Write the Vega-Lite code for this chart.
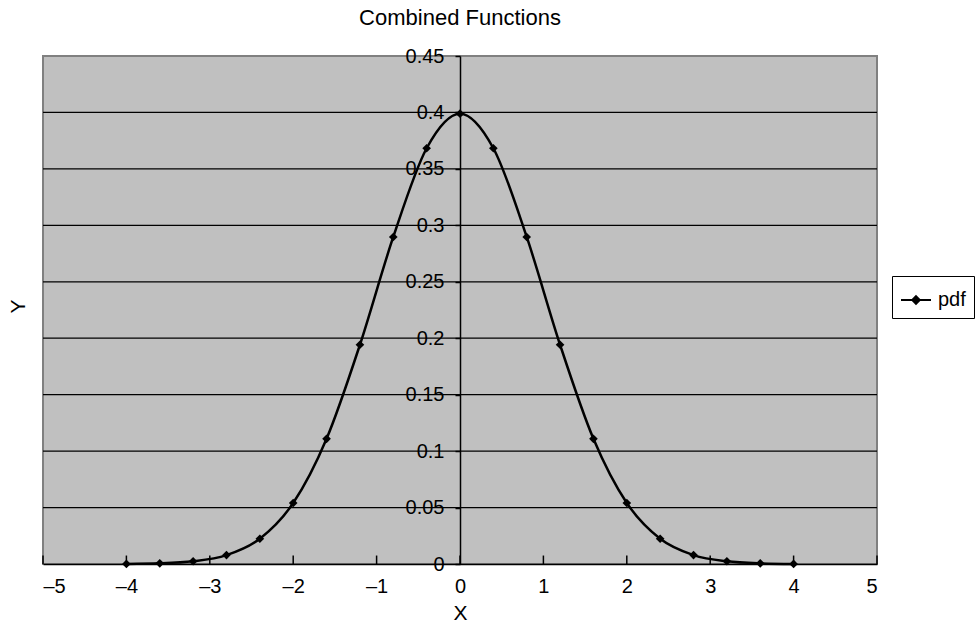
{
  "$schema": "https://vega.github.io/schema/vega-lite/v6.json",
  "autosize": "none",
  "width": 834,
  "height": 508,
  "padding": {"left": 43, "top": 56, "right": 99, "bottom": 59},
  "background": "white",
  "title": {"text": "Combined Functions", "fontSize": 22, "fontWeight": "normal", "font": "Liberation Sans", "color": "black", "offset": 16},
  "config": {
    "font": "Liberation Sans",
    "view": {"fill": "#c0c0c0", "stroke": "#808080", "strokeWidth": 2}
  },
  "data": {"values": [
    {"x": -4.0, "y": 0.0001, "series": "pdf"},
    {"x": -3.6, "y": 0.0006, "series": "pdf"},
    {"x": -3.2, "y": 0.0024, "series": "pdf"},
    {"x": -2.8, "y": 0.0079, "series": "pdf"},
    {"x": -2.4, "y": 0.0224, "series": "pdf"},
    {"x": -2.0, "y": 0.054, "series": "pdf"},
    {"x": -1.6, "y": 0.1109, "series": "pdf"},
    {"x": -1.2, "y": 0.1942, "series": "pdf"},
    {"x": -0.8, "y": 0.2897, "series": "pdf"},
    {"x": -0.4, "y": 0.3683, "series": "pdf"},
    {"x": 0.0, "y": 0.3989, "series": "pdf"},
    {"x": 0.4, "y": 0.3683, "series": "pdf"},
    {"x": 0.8, "y": 0.2897, "series": "pdf"},
    {"x": 1.2, "y": 0.1942, "series": "pdf"},
    {"x": 1.6, "y": 0.1109, "series": "pdf"},
    {"x": 2.0, "y": 0.054, "series": "pdf"},
    {"x": 2.4, "y": 0.0224, "series": "pdf"},
    {"x": 2.8, "y": 0.0079, "series": "pdf"},
    {"x": 3.2, "y": 0.0024, "series": "pdf"},
    {"x": 3.6, "y": 0.0006, "series": "pdf"},
    {"x": 4.0, "y": 0.0001, "series": "pdf"}
  ]},
  "encoding": {
    "x": {
      "field": "x", "type": "quantitative",
      "scale": {"domain": [-5, 5], "nice": false, "zero": false},
      "axis": {
        "title": "X", "titleFontSize": 21, "titleFontWeight": "normal", "titleColor": "black", "titlePadding": 6,
        "values": [-5, -4, -3, -2, -1, 0, 1, 2, 3, 4, 5],
        "labelExpr": "datum.value < 0 ? '\u2013' + format(-datum.value, 'd') : format(datum.value, 'd')",
        "labelFontSize": 20, "labelColor": "black", "labelPadding": 12,
        "grid": false, "domainColor": "black", "domainWidth": 1.5,
        "ticks": false, "tickSize": 0
      }
    },
    "y": {
      "field": "y", "type": "quantitative",
      "scale": {"domain": [0, 0.45], "nice": false},
      "axis": {
        "title": "Y", "titleFontSize": 21, "titleFontWeight": "normal", "titleColor": "black",
        "titleX": -436, "titleY": 250, "titleBaseline": "alphabetic",
        "offset": -417,
        "values": [0, 0.05, 0.1, 0.15, 0.2, 0.25, 0.3, 0.35, 0.4, 0.45],
        "labelExpr": "datum.value == 0 ? '0' : format(datum.value, '.2~f')",
        "labelFontSize": 20, "labelColor": "black", "labelPadding": 11,
        "grid": false, "domainColor": "black", "domainWidth": 1.5,
        "tickColor": "black", "tickSize": 5, "tickWidth": 1.5
      }
    }
  },
  "layer": [
    {
      "mark": {"type": "rule", "color": "black", "strokeWidth": 1.2},
      "data": {"values": [{"g": 0.05}, {"g": 0.1}, {"g": 0.15}, {"g": 0.2}, {"g": 0.25}, {"g": 0.3}, {"g": 0.35}, {"g": 0.4}]},
      "encoding": {"y": {"field": "g", "type": "quantitative"}, "x": null}
    },
    {
      "mark": {"type": "rule", "color": "black", "strokeWidth": 1.5},
      "data": {"values": [
        {"t": -5, "b": 0, "h": 0.0075}, {"t": -4, "b": 0, "h": 0.0075}, {"t": -3, "b": 0, "h": 0.0075},
        {"t": -2, "b": 0, "h": 0.0075}, {"t": -1, "b": 0, "h": 0.0075}, {"t": 0, "b": 0, "h": 0.0075},
        {"t": 1, "b": 0, "h": 0.0075}, {"t": 2, "b": 0, "h": 0.0075}, {"t": 3, "b": 0, "h": 0.0075},
        {"t": 4, "b": 0, "h": 0.0075}, {"t": 5, "b": 0, "h": 0.0075}
      ]},
      "encoding": {
        "x": {"field": "t", "type": "quantitative"},
        "y": {"field": "b", "type": "quantitative"},
        "y2": {"field": "h"}
      }
    },
    {
      "mark": {"type": "line", "interpolate": "monotone", "strokeWidth": 2.5},
      "encoding": {
        "color": {
          "field": "series", "type": "nominal",
          "scale": {"domain": ["pdf"], "range": ["black"]},
          "legend": {
            "title": null, "orient": "none", "legendX": 849, "legendY": 220,
            "fillColor": "white", "strokeColor": "black", "padding": 8,
            "labelFontSize": 20, "labelColor": "black",
            "symbolType": "M-1,0L1,0M0,-0.25L0.25,0L0,0.25L-0.25,0Z",
            "symbolSize": 900, "symbolStrokeWidth": 2, "symbolFillColor": "black", "symbolStrokeColor": "black",
            "labelOffset": 6
          }
        }
      }
    },
    {
      "mark": {"type": "point", "shape": "diamond", "filled": true, "color": "black", "size": 75, "opacity": 1}
    }
  ]
}
